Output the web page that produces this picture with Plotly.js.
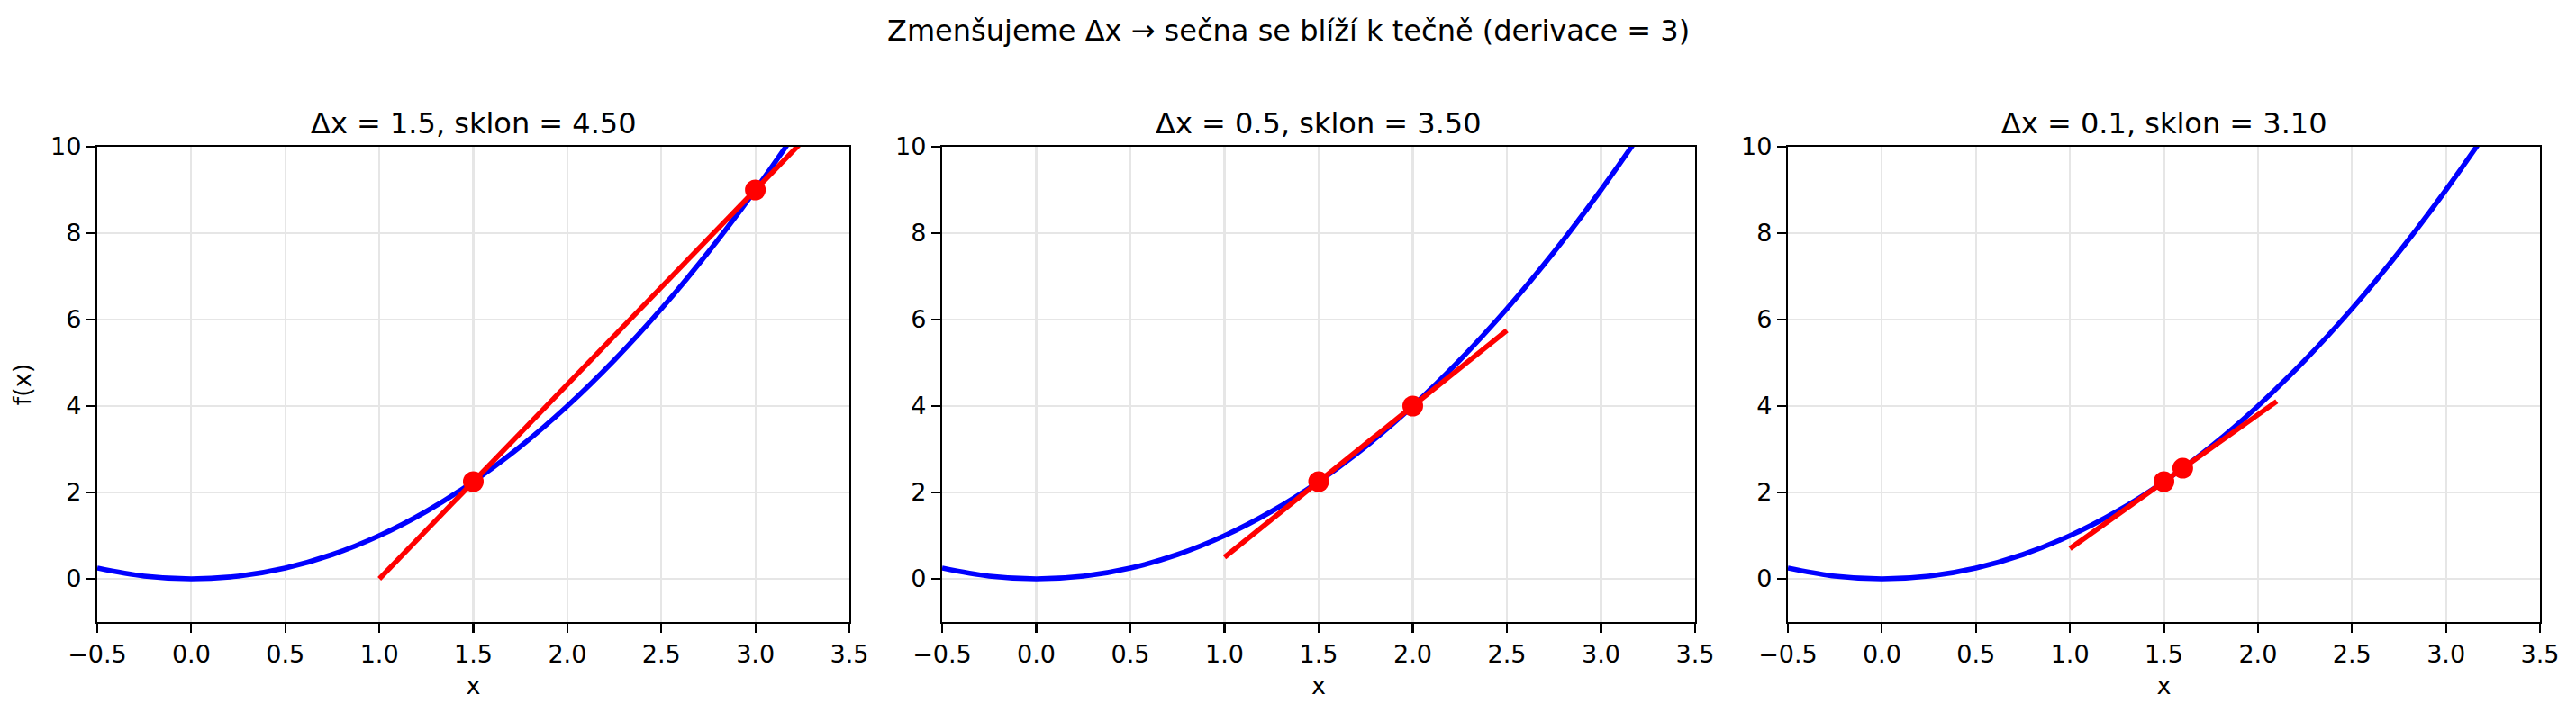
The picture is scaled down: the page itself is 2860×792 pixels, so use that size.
<!DOCTYPE html>
<html>
<head>
<meta charset="utf-8">
<script src="https://cdn.plot.ly/plotly-3.0.1.min.js"></script>
<style>html,body{margin:0;padding:0;background:#fff;}#chart{width:2860px;height:792px;}</style>
</head>
<body>
<div id="chart"></div>
<script>
// f(x) = x^2 curve points
const curveX = [-0.5, -0.25, 0.0, 0.25, 0.5, 0.75, 1.0, 1.25, 1.5, 1.75, 2.0, 2.25, 2.5, 2.75, 3.0, 3.25, 3.5];
const curveY = [0.25, 0.0625, 0.0, 0.0625, 0.25, 0.5625, 1.0, 1.5625, 2.25, 3.0625, 4.0, 5.0625, 6.25, 7.5625, 9.0, 10.5625, 12.25];

// panel titles
const panelTitles = ["Δx = 1.5, sklon = 4.50", "Δx = 0.5, sklon = 3.50", "Δx = 0.1, sklon = 3.10"];
const suptitle = "Zmenšujeme Δx → sečna se blíží k tečně (derivace = 3)";

// secant line endpoints per panel
const secantX = [[1.0, 3.5], [1.0, 2.5], [1.0, 2.1]];
const secantY = [[0.0, 11.25], [0.5, 5.75], [0.7, 4.11]];

// secant points per panel
const pointX = [[1.5, 3.0], [1.5, 2.0], [1.5, 1.6]];
const pointY = [[2.25, 9.0], [2.25, 4.0], [2.25, 2.56]];

// ticks
const xTickVals = [-0.5, 0.0, 0.5, 1.0, 1.5, 2.0, 2.5, 3.0, 3.5];
const xTickText = ["−0.5", "0.0", "0.5", "1.0", "1.5", "2.0", "2.5", "3.0", "3.5"];
const yTickVals = [0, 2, 4, 6, 8, 10];

const W = 2860, H = 792;
const xDomPx = [[108, 943], [1046, 1882], [1985, 2820]];
const yDomPx = [163, 691];
const FONT = "DejaVu Sans, sans-serif";
const LW = 5.6;

const traces = [];
const layout = {
  width: W, height: H,
  margin: {l: 0, r: 0, t: 0, b: 0},
  paper_bgcolor: "#ffffff", plot_bgcolor: "#ffffff",
  showlegend: false,
  font: {family: FONT, color: "#000000", size: 27},
  annotations: []
};

for (let i = 0; i < 3; i++) {
  const xa = i === 0 ? "x" : "x" + (i + 1);
  const ya = i === 0 ? "y" : "y" + (i + 1);
  traces.push({x: curveX, y: curveY, xaxis: xa, yaxis: ya, type: "scatter", mode: "lines",
    line: {color: "#0000ff", width: LW, shape: "spline", smoothing: 1.0}, hoverinfo: "skip"});
  traces.push({x: secantX[i], y: secantY[i], xaxis: xa, yaxis: ya, type: "scatter", mode: "lines",
    line: {color: "#ff0000", width: LW}, hoverinfo: "skip"});
  traces.push({x: pointX[i], y: pointY[i], xaxis: xa, yaxis: ya, type: "scatter", mode: "markers",
    marker: {color: "#ff0000", size: 23, line: {width: 0}}, cliponaxis: false, hoverinfo: "skip"});

  const axBase = {
    showline: true, mirror: true, linecolor: "#000000", linewidth: 2.2,
    ticks: "outside", ticklen: 10, tickwidth: 2.2, tickcolor: "#000000",
    showgrid: true, gridcolor: "#e6e6e6", gridwidth: 2.2, zeroline: false,
    tickfont: {family: FONT, size: 27, color: "#000000"}
  };
  layout["xaxis" + (i === 0 ? "" : i + 1)] = Object.assign({}, axBase, {
    domain: [xDomPx[i][0] / W, xDomPx[i][1] / W], anchor: ya,
    range: [-0.5, 3.5], tickmode: "array", tickvals: xTickVals, ticktext: xTickText,
    title: {text: "x", font: {family: FONT, size: 27, color: "#000000"}, standoff: 12}
  });
  const yax = Object.assign({}, axBase, {
    domain: [1 - yDomPx[1] / H, 1 - yDomPx[0] / H], anchor: xa,
    range: [-1, 10], tickmode: "array", tickvals: yTickVals
  });
  if (i === 0) yax.title = {text: "f(x)", font: {family: FONT, size: 27, color: "#000000"}, standoff: 14};
  layout["yaxis" + (i === 0 ? "" : i + 1)] = yax;

  layout.annotations.push({
    text: panelTitles[i], xref: "paper", yref: "paper",
    x: (xDomPx[i][0] + xDomPx[i][1]) / 2 / W, y: 1 - 137 / H,
    xanchor: "center", yanchor: "middle", showarrow: false,
    font: {family: FONT, size: 32, color: "#000000"}
  });
}
layout.annotations.push({
  text: suptitle, xref: "paper", yref: "paper",
  x: 0.5, y: 1 - 34 / H, xanchor: "center", yanchor: "middle", showarrow: false,
  font: {family: FONT, size: 32, color: "#000000"}
});

Plotly.newPlot("chart", traces, layout, {staticPlot: true, displayModeBar: false});
</script>
</body>
</html>
